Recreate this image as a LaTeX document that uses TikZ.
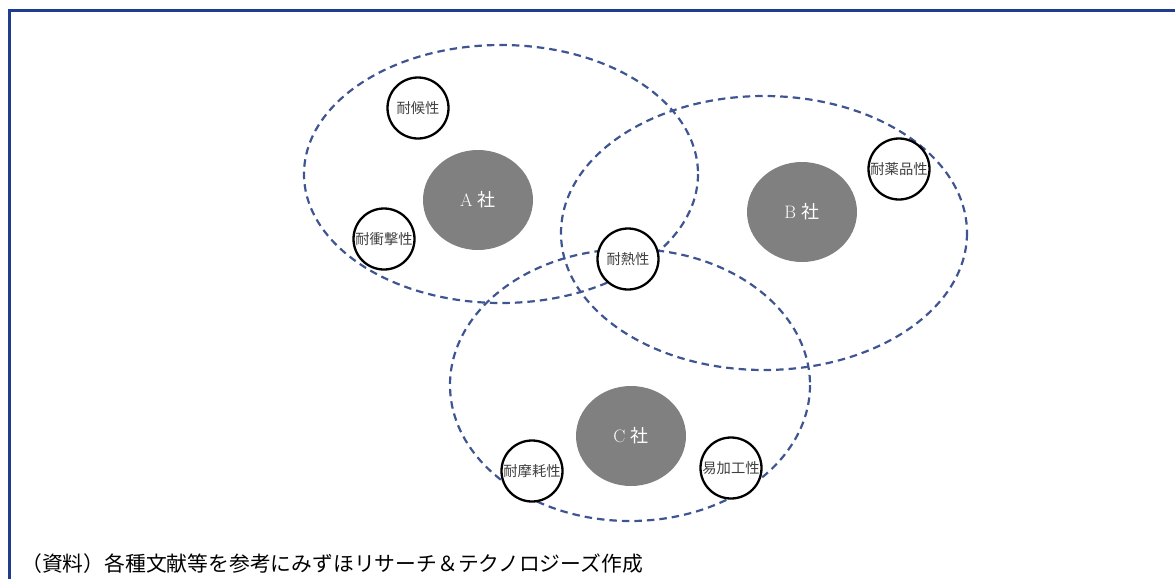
\documentclass[tikz,border=0pt]{standalone}
\usepackage{fontspec}
\newfontfamily\cjk{Noto Sans CJK JP}
\definecolor{frameblue}{HTML}{1F3C8F}
\definecolor{dashblue}{HTML}{3F5592}
\definecolor{corpgray}{HTML}{808080}
\definecolor{txtgray}{HTML}{404040}
\tikzset{
  group/.style={draw=dashblue, line width=2.2pt, dash pattern=on 7.5pt off 5pt},
  corp/.style={ellipse, fill=corpgray, draw=none, minimum width=110pt, minimum height=100pt, text=white, font=\fontsize{18}{20}\selectfont},
  prop/.style={circle, draw=black, line width=2.3pt, fill=white, minimum size=61pt, inner sep=0pt, text=txtgray, font=\cjk\fontsize{14.3}{16}\selectfont},
}
\usetikzlibrary{shapes.geometric}
\begin{document}
\begin{tikzpicture}[x=1pt,y=-1pt]
\useasboundingbox (0,0) rectangle (1175,579);
\draw[frameblue, line width=3pt] (9.8,579) -- (9.8,10.2) -- (1175,10.2);
% group ellipses
\draw[group] (501,174) ellipse [x radius=197, y radius=129];
\draw[group] (764,233) ellipse [x radius=203, y radius=137];
\draw[group] (630,385) ellipse [x radius=180, y radius=136];
% companies
\node[corp] (A) at (478,200) {A {\cjk 社}};
\node[corp] (B) at (802,212) {B {\cjk 社}};
\node[corp] (C) at (631,436) {C {\cjk 社}};
% properties
\node[prop] (p1) at (418,108) {耐候性};
\node[prop] (p2) at (384,239) {耐衝撃性};
\node[prop] (p3) at (628,259) {耐熱性};
\node[prop] (p4) at (899,169) {耐薬品性};
\node[prop] (p5) at (532,471) {耐摩耗性};
\node[prop] (p6) at (731,468) {易加工性};
% caption
\node[anchor=west, inner sep=0pt, text=black, font=\cjk\fontsize{20.8}{23}\selectfont] (cap) at (21,564) {（資料）各種文献等を参考にみずほリサーチ＆テクノロジーズ作成};
\end{tikzpicture}
\end{document}
